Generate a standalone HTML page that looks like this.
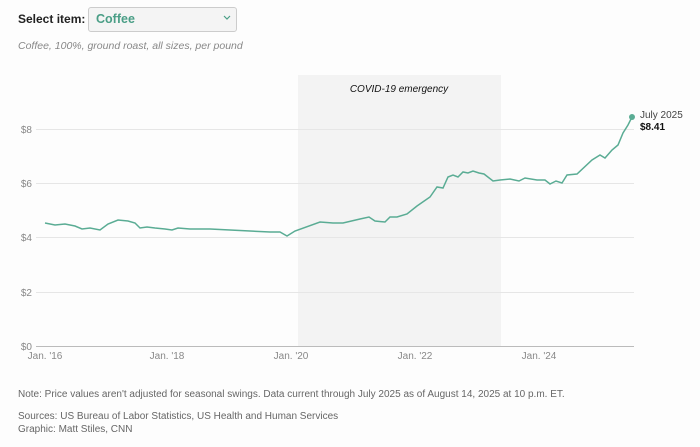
<!DOCTYPE html>
<html><head><style>
body{margin:0;background:#fdfdfd;font-family:"Liberation Sans",sans-serif;}
.wrap{position:relative;width:700px;height:447px;overflow:hidden}
</style></head><body><div class="wrap">
<div style="position:absolute;left:18px;top:12px;font-size:12px;font-weight:bold;color:#222">Select item:</div>
<div style="position:absolute;left:88px;top:7px;width:147px;height:23px;border:1px solid #ccc;border-radius:3px;background:#f4f4f4"></div>
<div style="position:absolute;left:96px;top:12px;font-size:12.5px;font-weight:bold;color:#4a9e86">Coffee</div>
<div style="position:absolute;left:18px;top:40px;font-size:10.5px;font-style:italic;color:#888">Coffee, 100%, ground roast, all sizes, per pound</div>
<svg width="700" height="447" style="position:absolute;left:0;top:0" font-family="Liberation Sans, sans-serif">
<polyline points="224,16 227,19 230,16" fill="none" stroke="#4a9e86" stroke-width="1.2"/>
<rect x="298" y="75" width="203" height="271" fill="#f3f3f3"/>
<text x="399" y="92" font-size="10" font-style="italic" text-anchor="middle" fill="#111">COVID-19 emergency</text>
<g stroke="#e6e6e6" stroke-width="1">
<line x1="36" y1="129.5" x2="634" y2="129.5"/>
<line x1="36" y1="183.5" x2="634" y2="183.5"/>
<line x1="36" y1="237.5" x2="634" y2="237.5"/>
<line x1="36" y1="292.5" x2="634" y2="292.5"/>
</g>
<line x1="36" y1="346.5" x2="634" y2="346.5" stroke="#bbb"/>
<g font-size="10" fill="#888">
<text x="32" y="133" text-anchor="end">$8</text>
<text x="32" y="187" text-anchor="end">$6</text>
<text x="32" y="241" text-anchor="end">$4</text>
<text x="32" y="296" text-anchor="end">$2</text>
<text x="32" y="350" text-anchor="end">$0</text>
<text x="45" y="359" text-anchor="middle">Jan. '16</text>
<text x="167" y="359" text-anchor="middle">Jan. '18</text>
<text x="291" y="359" text-anchor="middle">Jan. '20</text>
<text x="415" y="359" text-anchor="middle">Jan. '22</text>
<text x="539" y="359" text-anchor="middle">Jan. '24</text>
</g>
<polyline fill="none" stroke="#5aac94" stroke-width="1.5" points="45,223 55,225 65,224 75,226 82,229 90,228 100,230 108,224 118,220 128,221 135,223 140,228 147,227 155,228 165,229 172,230 178,228 190,229 210,229 230,230 250,231 270,232 280,232 287,236 295,231 320,222 333,223 343,223 360,219 369,217 375,221 385,222 390,217 397,217 407,214 417,206 430,197 437,187 443,188 448,177 453,175 458,177 463,172 468,173 473,171 479,173 484,174 493,181 500,180 510,179 519,181 525,178 537,180 545,180 550,184 556,181 562,183 567,175 577,174 592,160 600,155 605,158 612,150 618,145 623,133 628,125 632,117"/>
<circle cx="632" cy="117" r="3" fill="#5aac94"/>
<text x="640" y="118" font-size="10" fill="#444">July 2025</text>
<text x="640" y="130" font-size="10" font-weight="bold" fill="#111">$8.41</text>
<g font-size="10" fill="#666">
<text x="18" y="397">Note: Price values aren't adjusted for seasonal swings. Data current through July 2025 as of August 14, 2025 at 10 p.m. ET.</text>
<text x="18" y="419">Sources: US Bureau of Labor Statistics, US Health and Human Services</text>
<text x="18" y="432">Graphic: Matt Stiles, CNN</text>
</g>
</svg>
</div></body></html>
